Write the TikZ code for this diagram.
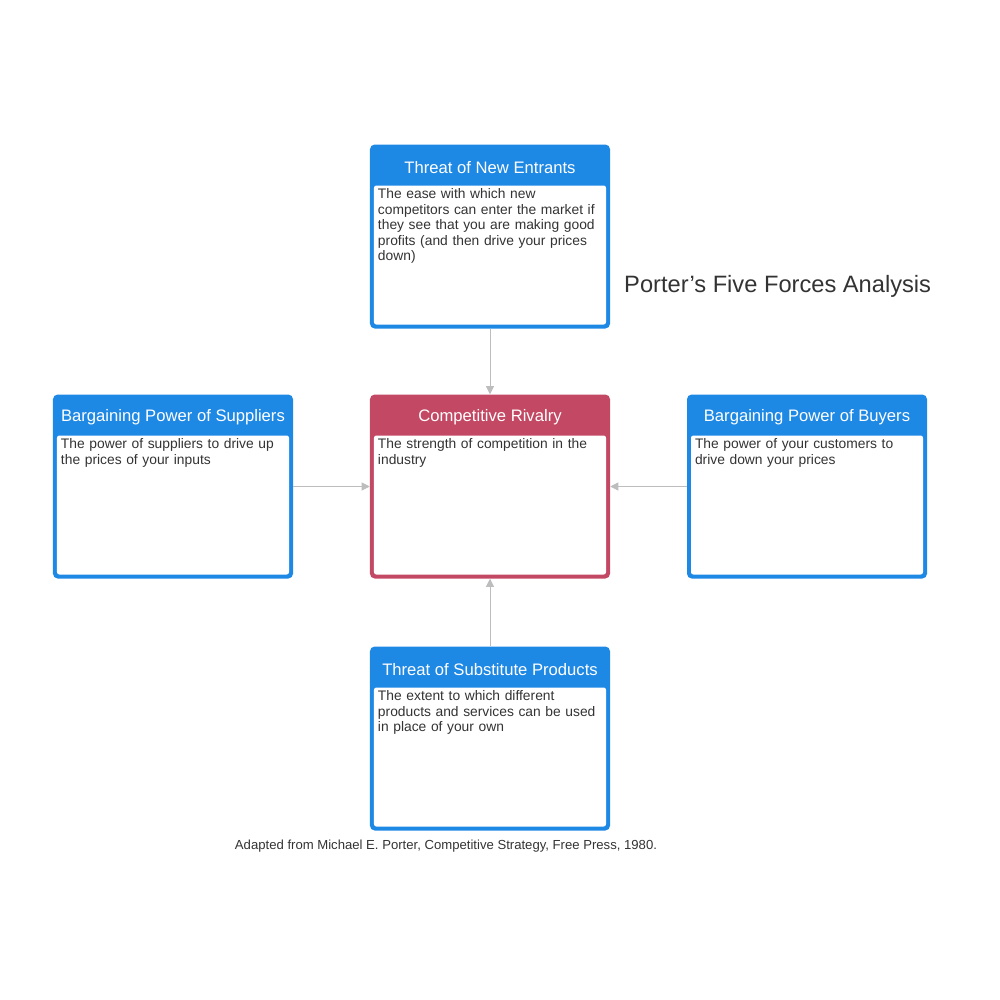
\documentclass[tikz,border=0pt]{standalone}
\usepackage{fontspec}
\setmainfont{Liberation Sans}
\usetikzlibrary{calc, positioning, arrows.meta}
\definecolor{mBlue}{HTML}{1E88E5}
\definecolor{mRose}{HTML}{C34863}
\definecolor{mText}{HTML}{333333}
\definecolor{mLine}{HTML}{BDBDBD}

\begin{document}
\hyphenpenalty=10000
\exhyphenpenalty=10000
\begin{tikzpicture}
		[x=0.03cm, y=-0.03cm,
		force/.style ={rectangle, draw=none, minimum width=7.2cm, minimum height=5.52cm, rounded corners=4pt, inner sep=0pt},
		head/.style ={text=white, font=\fontsize{14.2}{15}\selectfont, inner sep=0pt},
		pane/.style ={rectangle, fill=white, minimum width=6.96cm, minimum height=4.17cm, rounded corners=2pt, inner sep=0pt},
		body/.style ={text width=6.7cm, align=left, inner sep=0pt, text=mText, font=\fontsize{11.8}{13.3}\selectfont},
		link/.style ={draw=mLine, thick, -{Triangle[length=7pt, width=7pt]}}]
		\useasboundingbox (0,0) rectangle (1000,1000);

		\node[force, fill=mBlue] (entrants) at (490,236.5) {};
		\node[force, fill=mRose] (rivalry) at (490,486.5) {};
		\node[force, fill=mBlue] (suppliers) at (173,486.5) {};
		\node[force, fill=mBlue] (buyers) at (807,486.5) {};
		\node[force, fill=mBlue] (substitutes) at (490,738.5) {};

		\foreach \f/\t in {entrants/Threat of New Entrants, rivalry/Competitive Rivalry, suppliers/Bargaining Power of Suppliers, buyers/Bargaining Power of Buyers, substitutes/Threat of Substitute Products}
		{
			\node[head] (\f Head) at ($(\f.north)+(0,23)$) {\t};
			\node[pane, anchor=north] (\f Pane) at ($(\f.north)+(0,41)$) {};
		}

		\node[body, anchor=north west] (entrantsText) at ($(entrantsPane.north west)+(4,3)$) {The ease with which new competitors can enter the market if they see that you are making good profits (and then drive your prices down)};
		\node[body, anchor=north west] (rivalryText) at ($(rivalryPane.north west)+(4,3)$) {The strength of competition in the industry};
		\node[body, anchor=north west] (suppliersText) at ($(suppliersPane.north west)+(4,3)$) {The power of suppliers to drive up the prices of your inputs};
		\node[body, anchor=north west] (buyersText) at ($(buyersPane.north west)+(4,3)$) {The power of your customers to drive down your prices};
		\node[body, anchor=north west] (substitutesText) at ($(substitutesPane.north west)+(4,3)$) {The extent to which different products and services can be used in place of your own};

		\draw[link] (entrants) -- (rivalry);
		\draw[link] (suppliers) -- (rivalry);
		\draw[link] (buyers) -- (rivalry);
		\draw[link] (substitutes) -- (rivalry);

		\node[anchor=west, text=mText, font=\fontsize{20.2}{22}\selectfont, inner sep=0pt] (title) at (624,286) {Porter{\char"0027}s Five Forces Analysis};
		\node[text=mText, font=\fontsize{11.2}{13}\selectfont, inner sep=0pt] (source) at (446,846) {Adapted from Michael E. Porter, Competitive Strategy, Free Press, 1980.};
	\end{tikzpicture}
\end{document}
